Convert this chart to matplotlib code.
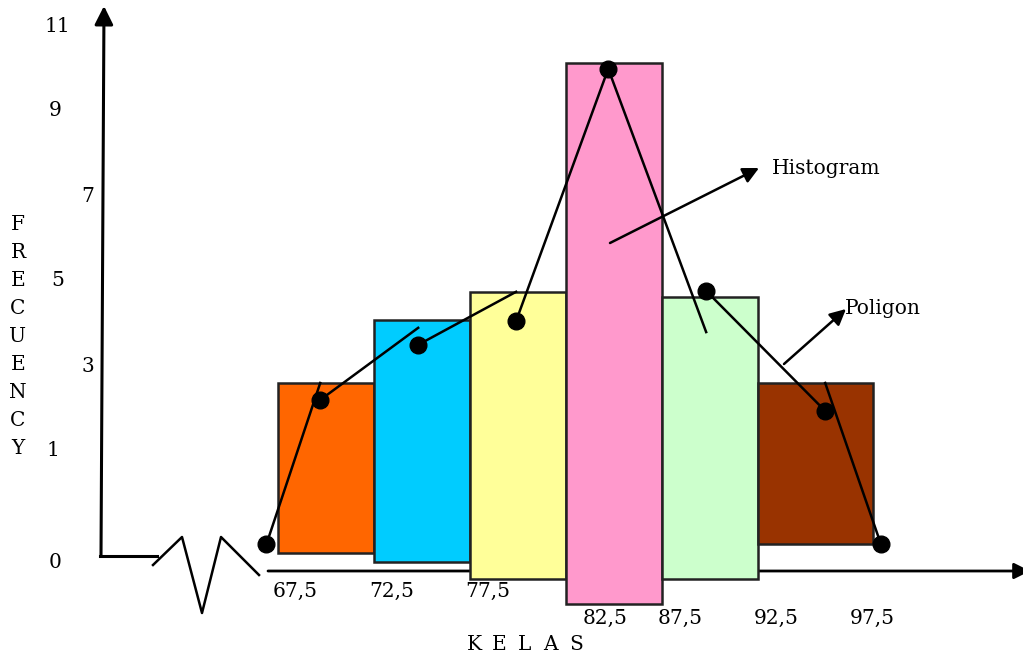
import matplotlib
matplotlib.use("Agg")
import matplotlib.pyplot as plt

# classes (lower boundaries) and widths of the histogram bars
class_left = [65, 70, 75, 80, 85, 90]
class_width = [5, 5, 5, 5, 5, 6]
freq_top = [2.6, 4.08, 4.75, 10.15, 4.63, 2.6]
freq_base = [-1.41, -1.62, -2.02, -2.61, -2.02, -1.2]
bar_colors = ["#FF6600", "#00CCFF", "#FFFF99", "#FF99CC", "#CCFFCC", "#993300"]

# polygon points (dots) and the end of each stroke drawn from them
poly_x = [64.4, 67.2, 72.3, 77.4, 82.2, 87.3, 93.5, 96.4]
poly_y = [-1.2, 2.2, 3.5, 4.06, 10.01, 4.77, 1.94, -1.2]
stroke_from_y = [-1.2, 2.2, 3.5, 4.06, 10.01, 4.77, 2.6]
stroke_to_y = [2.6, 3.9, 4.75, 10.01, 3.8, 1.94, -1.2]

x_labels = ["67,5", "72,5", "77,5", "82,5", "87,5", "92,5", "97,5"]
y_labels = ["0", "1", "3", "5", "7", "9", "11"]
y_word = "FRECUENCY"
x_word = "KELAS"

W, H = 1023, 657
fig = plt.figure(figsize=(W / 100, H / 100), dpi=100)

# pixel axes for the drawing decorations and labels
deco = fig.add_axes([0, 0, 1, 1])
deco.set_xlim(0, W); deco.set_ylim(H, 0); deco.axis('off')

# data axes: x in class value, y in frequency
ax = fig.add_axes([0, 0, 1, 1])
ax.patch.set_alpha(0)
ax.set_xlim(65 - 278 / 19.2, 65 + (W - 278) / 19.2)
ax.set_ylim(-(H - 493.2) / 42.4, 493.2 / 42.4)
ax.axis('off')

font = dict(family="DejaVu Serif", fontsize=14.5, color="black")
arrow = dict(arrowstyle="-|>", lw=1.8, color="black", mutation_scale=24, shrinkA=0, shrinkB=0)

# x axis (behind bars), arrow head runs off the right edge
deco.annotate("", xy=(1030, 571), xytext=(268, 571), annotation_clip=False,
              arrowprops=dict(arrow, lw=2), zorder=1)
# y axis
deco.annotate("", xy=(104, 6), xytext=(101, 556), annotation_clip=False,
              arrowprops=dict(arrow, lw=2.2, mutation_scale=28), zorder=1)
deco.plot([100, 157], [556, 556], color="black", lw=2.2)
deco.plot([153, 182, 202, 221, 259], [565, 537, 613, 537, 575], color="black", lw=1.8)

# histogram bars
for i in range(len(class_left)):
    ax.bar(class_left[i], freq_top[i] - freq_base[i], width=class_width[i], bottom=freq_base[i],
           align='edge', color=bar_colors[i], edgecolor="#222222", linewidth=1.8, zorder=2)

# polygon strokes and dots
for i in range(len(stroke_to_y)):
    ax.plot([poly_x[i], poly_x[i + 1]], [stroke_from_y[i], stroke_to_y[i]], color="black", lw=1.8, zorder=3)
ax.plot(poly_x, poly_y, 'o', color="black", markersize=12, zorder=4)

# callout arrows (on top of the bars)
ax.annotate("", xy=(759, 168), xytext=(610, 243), xycoords=deco.transData, textcoords=deco.transData,
            arrowprops=arrow, zorder=5)
ax.annotate("", xy=(846, 309), xytext=(784, 364), xycoords=deco.transData, textcoords=deco.transData,
            arrowprops=arrow, zorder=5)
deco.text(772, 168, "Histogram", ha='left', va='center', **font)
deco.text(845, 308, "Poligon", ha='left', va='center', **font)

# tick labels
x_lab_pos = [295, 392, 488, 605, 680, 776, 872]
x_lab_y = [591, 591, 591, 618, 618, 618, 618]
for lab, xp, yp in zip(x_labels, x_lab_pos, x_lab_y):
    deco.text(xp, yp, lab, ha='center', va='center', **font)

y_lab_pos = [(55, 562), (53, 450), (88, 366), (58, 281), (88, 196), (55, 111), (57, 27)]
for lab, (xp, yp) in zip(y_labels, y_lab_pos):
    deco.text(xp, yp, lab, ha='center', va='center', **font)

for k, ch in enumerate(y_word):
    deco.text(18, 225 + k * 28, ch, ha='center', va='center', **font)
for k, ch in enumerate(x_word):
    deco.text(474 + k * 25.5, 645, ch, ha='center', va='center', **font)

fig.savefig("out.png", dpi=100)
